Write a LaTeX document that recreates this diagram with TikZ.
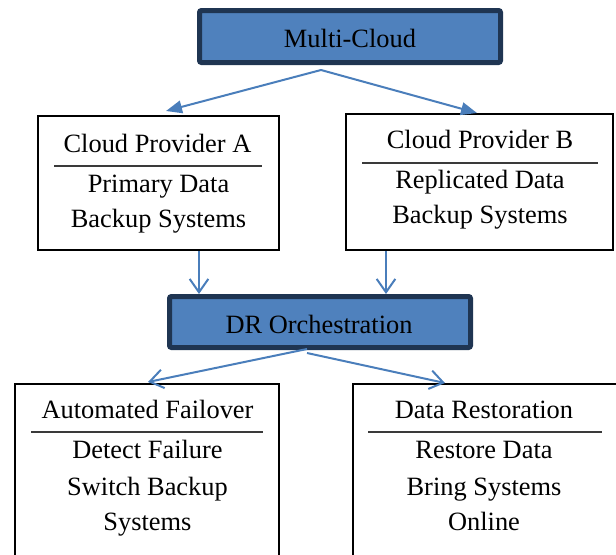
\documentclass[tikz,border=0pt]{standalone}
\usepackage{fontspec}
\setmainfont{Liberation Serif}
\usetikzlibrary{arrows.meta}
\definecolor{boxblue}{HTML}{4F81BD}
\definecolor{navy}{HTML}{1F3552}
\definecolor{arrowblue}{HTML}{4A7EBB}
\definecolor{rule}{HTML}{3A3A3A}
\begin{document}
\begin{tikzpicture}[x=0.75pt,y=-0.75pt,
  bluebox/.style={draw=navy,fill=boxblue,line width=3.75pt,rounded corners=1.5pt,inner sep=0pt},
  plainbox/.style={draw=black,fill=white,line width=1.1pt,inner sep=0pt},
  txt/.style={anchor=base,inner sep=0pt,font=\fontsize{19.8pt}{24pt}\selectfont},
  divider/.style={draw=rule,line width=1.5pt},
  tri/.style={draw=arrowblue,line width=1.5pt,-{Triangle[length=12pt,width=9.5pt,fill=arrowblue]}},
  barb/.style={draw=arrowblue,line width=1.5pt,-{Straight Barb[length=10pt,width=14pt]}}
]
\useasboundingbox (0,0) rectangle (616,554);
\clip (0,0) rectangle (616,554);

% boxes
\node[bluebox,minimum width=225.75pt,minimum height=39pt] (mc) at (350,36.5) {};
\node[plainbox,minimum width=180.75pt,minimum height=100.5pt] (pa) at (158.5,183) {};
\node[plainbox,minimum width=200.25pt,minimum height=102pt] (pb) at (479.5,182) {};
\node[bluebox,minimum width=225.75pt,minimum height=38.25pt] (dr) at (320,322) {};
\node[plainbox,minimum width=198pt,minimum height=139.5pt] (af) at (147,477) {};
\node[plainbox,minimum width=215.25pt,minimum height=139.5pt] (rs) at (496.5,477) {};

% texts
\node[txt] (mct) at (350,47) {Multi-Cloud};
\node[txt] (pat1) at (157.5,152) {Cloud Provider A};
\node[txt] (pat2) at (158.5,192) {Primary Data};
\node[txt] (pat3) at (158.5,227) {Backup Systems};
\node[txt] (pbt1) at (480,148) {Cloud Provider B};
\node[txt] (pbt2) at (480,188) {Replicated Data};
\node[txt] (pbt3) at (480,223) {Backup Systems};
\node[txt] (drt) at (319,333) {DR Orchestration};
\node[txt] (aft1) at (147.5,418) {Automated Failover};
\node[txt] (aft2) at (147.5,458) {Detect Failure};
\node[txt] (aft3) at (147.5,495) {Switch Backup};
\node[txt] (aft4) at (147.5,530) {Systems};
\node[txt] (rst1) at (484,418) {Data Restoration};
\node[txt] (rst2) at (484,458) {Restore Data};
\node[txt] (rst3) at (484,495) {Bring Systems};
\node[txt] (rst4) at (484,530) {Online};

% dividers
\draw[divider] (54,166) -- (262,166);
\draw[divider] (362,163) -- (598,163);
\draw[divider] (31,432) -- (263,432);
\draw[divider] (368,432) -- (602,432);

% connector end points
\coordinate (mcs) at (321,70);
\coordinate (pain) at (166,111);
\coordinate (pbin) at (477,113);
\coordinate (paout) at (199,251);
\coordinate (drinA) at (199,294);
\coordinate (pbout) at (386,251);
\coordinate (drinB) at (386,294);
\coordinate (drs1) at (307,349);
\coordinate (drs2) at (307,353);
\coordinate (afin) at (148,382);
\coordinate (rsin) at (445,383);

\draw[tri] (mcs) -- (pain);
\draw[tri] (mcs) -- (pbin);
\draw[barb] (paout) -- (drinA);
\draw[barb] (pbout) -- (drinB);
\draw[barb] (drs1) -- (afin);
\draw[barb] (drs2) -- (rsin);
\end{tikzpicture}
\end{document}
